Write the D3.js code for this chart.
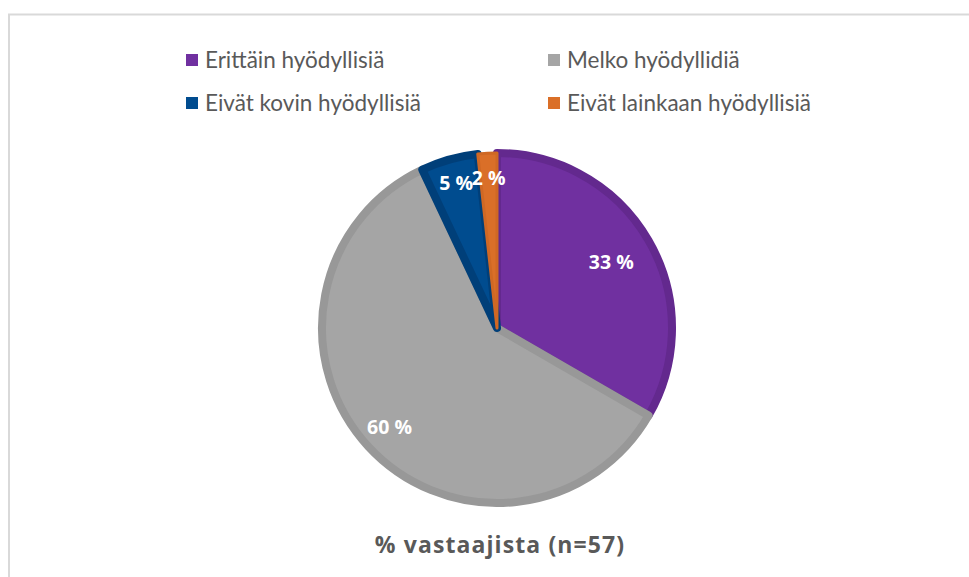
<!DOCTYPE html>
<html><head><meta charset="utf-8">
<script src="https://cdn.jsdelivr.net/npm/d3@7"></script>
<style>html,body{margin:0;padding:0;background:#fff;}svg{display:block;}</style>
</head><body>
<svg id="chart" width="969" height="577"></svg>
<script>
const categories = ["Erittäin hyödyllisiä", "Melko hyödyllidiä", "Eivät kovin hyödyllisiä", "Eivät lainkaan hyödyllisiä"];
const counts = [19, 34, 3, 1];
const colors = ["#7030A0", "#A5A5A5", "#004C8F", "#DA6F28"];
const strokeColors = ["#63298E", "#989898", "#003F79", "#CF6824"];
const total = 57;
const title = "% vastaajista (n=57)";

const svg = d3.select("#chart");

// frame
svg.append("path").attr("d", `M9,577 V14.5 H969`).attr("fill", "none").attr("stroke", "#d9d9d9").attr("stroke-width", 2);

const cx = 497, cy = 328, R = 179, sw = 8;
const data = categories.map((c, i) => ({cat: c, v: counts[i], i}));
const pie = d3.pie().value(d => d.v).sort(null);
const arcs = pie(data);
const arc = d3.arc().innerRadius(0).outerRadius(R - sw / 2);

const g = svg.append("g").attr("transform", `translate(${cx},${cy})`);
g.selectAll("path.slice").data(arcs).join("path")
  .attr("class", "slice")
  .attr("d", arc)
  .attr("fill", d => colors[d.data.i])
  .attr("stroke", d => strokeColors[d.data.i])
  .attr("stroke-width", d => d.data.v / total < 0.03 ? 3 : sw)
  .attr("stroke-linejoin", "round");

const labelR = [132, 146, 150, 150];
g.selectAll("text.lbl").data(arcs).join("text")
  .attr("class", "lbl")
  .attr("transform", d => {
    const a = (d.startAngle + d.endAngle) / 2;
    const r = labelR[d.data.i];
    return `translate(${Math.sin(a) * r},${-Math.cos(a) * r})`;
  })
  .attr("text-anchor", "middle")
  .attr("dy", "0.35em")
  .attr("fill", "#fff")
  .attr("font-family", "'Open Sans', sans-serif")
  .attr("font-weight", "bold")
  .attr("font-size", 19.5)
  .text(d => Math.round(d.data.v / total * 100) + " %");

// legend
const legX = [186, 548], legY = [60, 103];
const lg = svg.append("g");
categories.forEach((c, i) => {
  const x = legX[i % 2], y = legY[Math.floor(i / 2)];
  lg.append("rect").attr("x", x).attr("y", y - 6).attr("width", 12).attr("height", 12).attr("fill", colors[i]);
  lg.append("text").attr("x", x + 19).attr("y", y).attr("dy", "0.36em")
    .attr("font-family", "Lato, sans-serif").attr("font-size", 22.5).attr("fill", "#595959").text(c);
});

svg.append("text").attr("x", 500).attr("y", 553).attr("text-anchor", "middle")
  .attr("font-family", "'Open Sans', sans-serif").attr("font-weight", "bold").attr("font-size", 23)
  .attr("fill", "#595959").attr("letter-spacing", 1.1).text(title);
</script>
</body></html>
